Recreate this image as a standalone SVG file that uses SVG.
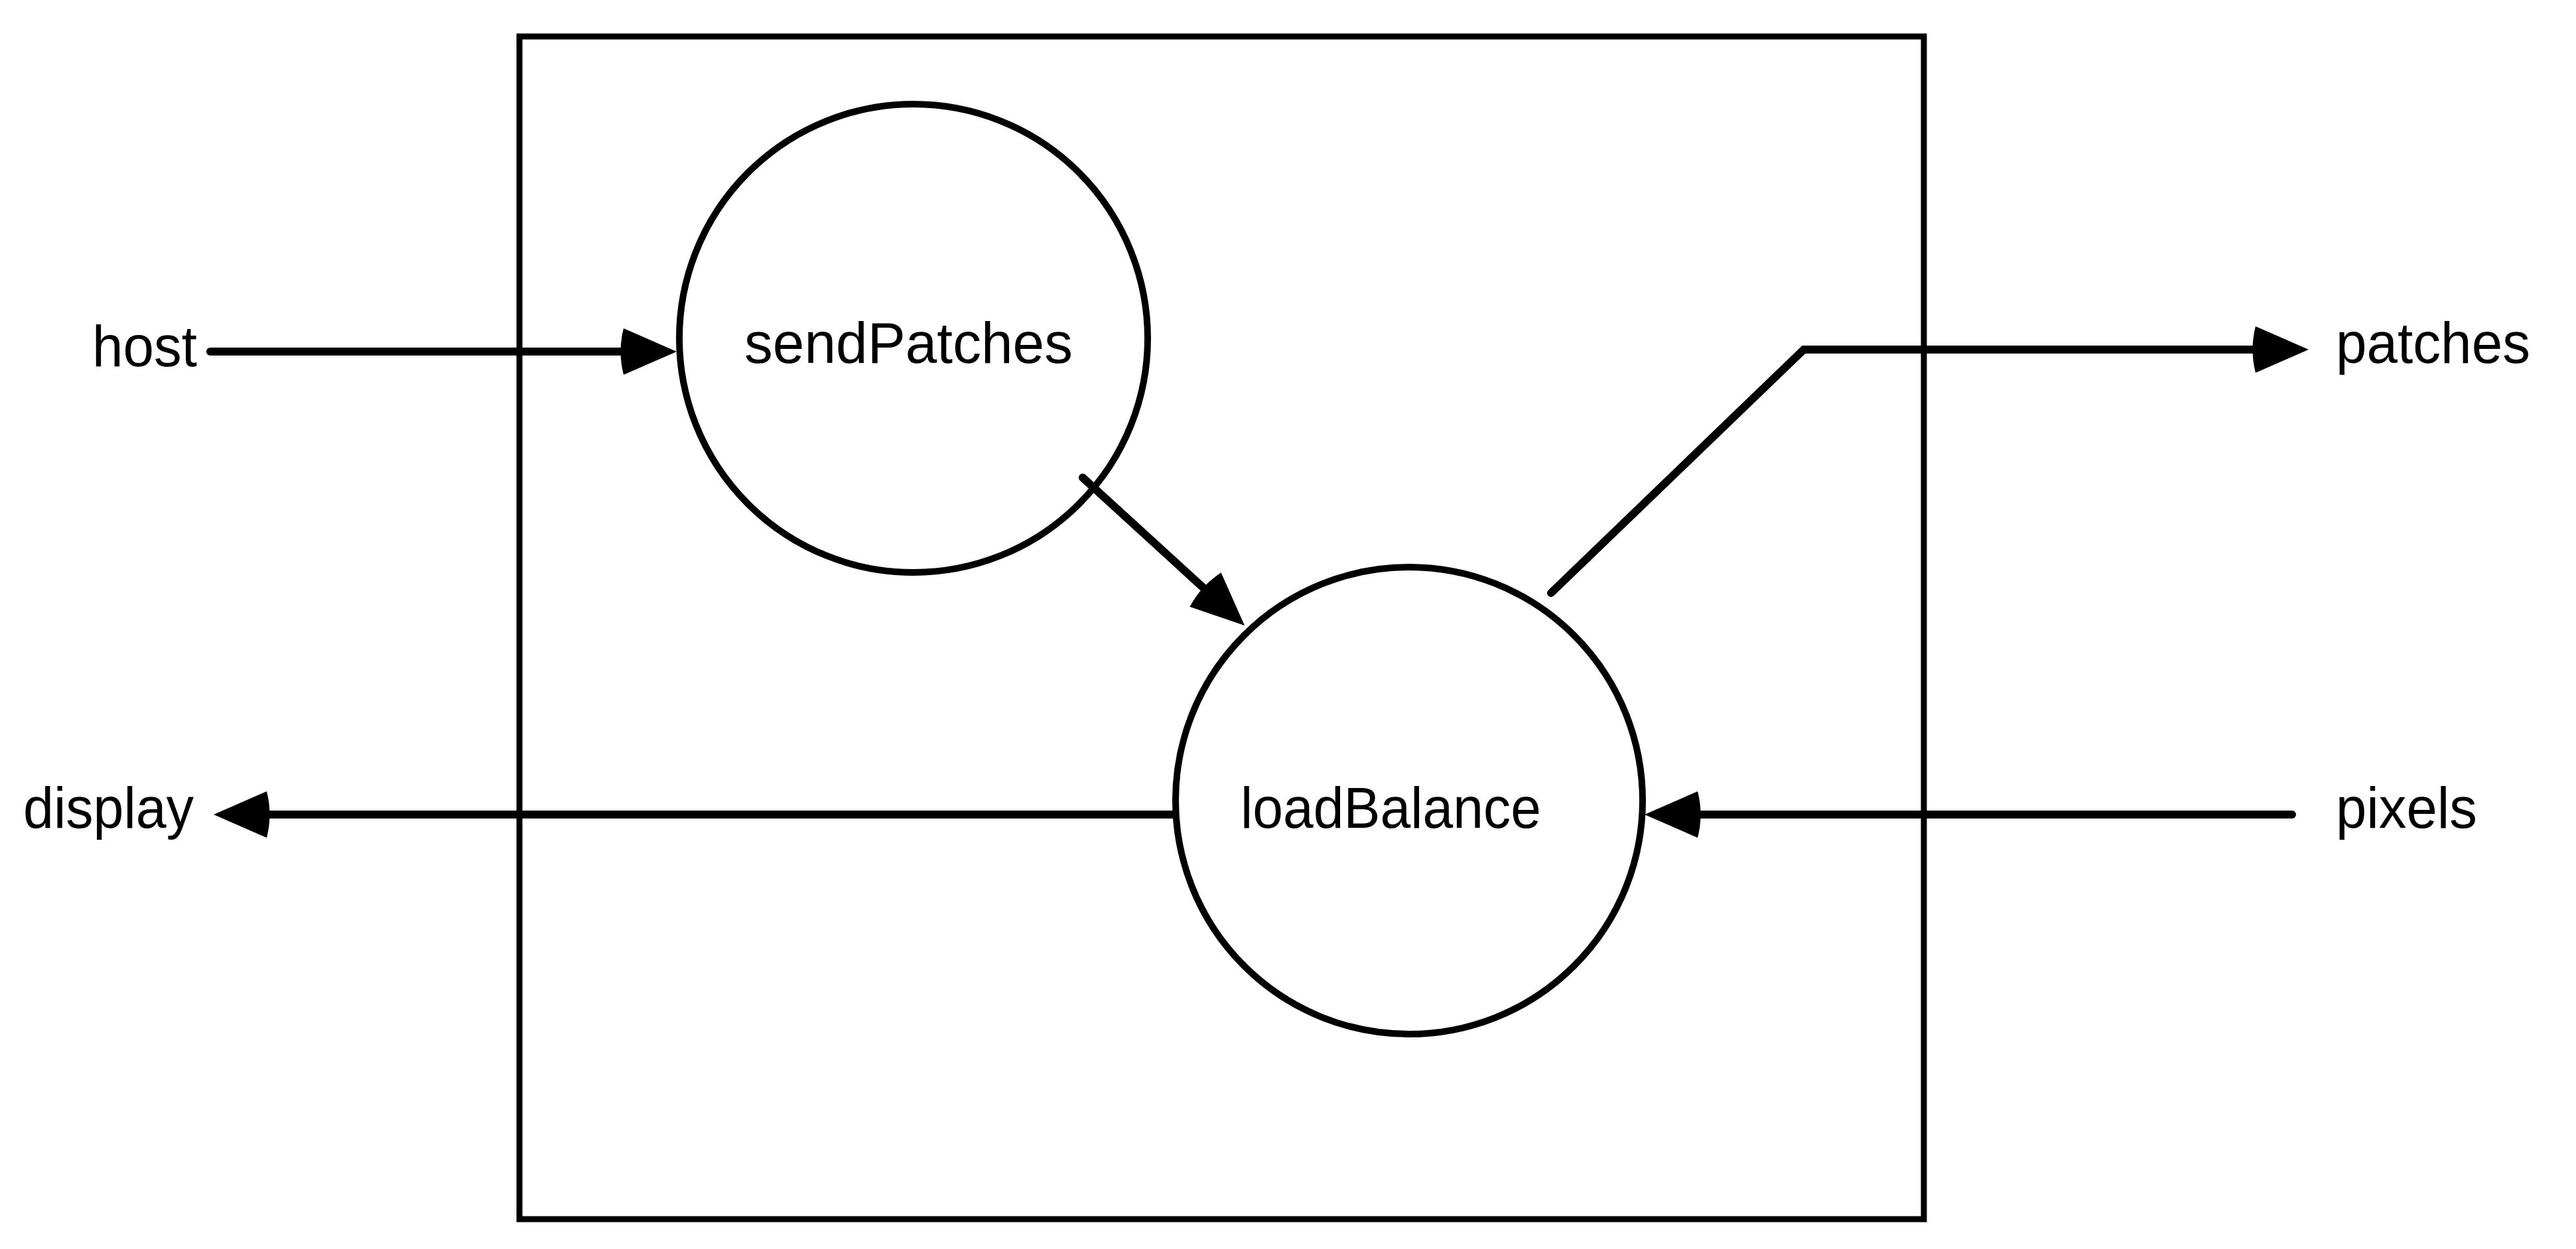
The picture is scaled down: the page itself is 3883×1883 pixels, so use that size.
<svg xmlns="http://www.w3.org/2000/svg" width="3883" height="1883" viewBox="0 0 3883 1883">
<style>
.box{fill:none;stroke:#000;stroke-width:9}
.node{fill:none;stroke:#000;stroke-width:10}
.edge{fill:none;stroke:#000;stroke-width:12;stroke-linecap:round;stroke-linejoin:miter}
.lbl{font-family:"Liberation Sans",Arial,sans-serif;font-size:88px;fill:#000}
</style>
<defs>
<marker id="arr" markerUnits="userSpaceOnUse" viewBox="-10 0 92 70" refX="0" refY="35" markerWidth="92" markerHeight="70" orient="auto">
<path d="M0,0 Q-9,35 0,70 L80,35 z" fill="#000"/>
</marker>
</defs>
<rect width="3883" height="1883" fill="#fff"/>
<g id="frame"><rect class="box" x="783" y="55" width="2117" height="1783"/></g>
<g id="sendPatches"><circle class="node" cx="1377" cy="510" r="353"/><text class="lbl" x="1122" y="547" textLength="495" lengthAdjust="spacingAndGlyphs">sendPatches</text></g>
<g id="loadBalance"><circle class="node" cx="2124" cy="1207" r="352"/><text class="lbl" x="1870" y="1248" textLength="453" lengthAdjust="spacingAndGlyphs">loadBalance</text></g>
<g id="host"><text class="lbl" x="139" y="552" textLength="158" lengthAdjust="spacingAndGlyphs">host</text></g>
<g id="display"><text class="lbl" x="35" y="1248" textLength="257" lengthAdjust="spacingAndGlyphs">display</text></g>
<g id="patches"><text class="lbl" x="3521" y="547" textLength="293" lengthAdjust="spacingAndGlyphs">patches</text></g>
<g id="pixels"><text class="lbl" x="3521" y="1248" textLength="213" lengthAdjust="spacingAndGlyphs">pixels</text></g>
<g id="connectors">
<line class="edge" x1="317" y1="530" x2="940" y2="530" marker-end="url(#arr)"/>
<line class="edge" x1="1632" y1="720" x2="1817" y2="889" marker-end="url(#arr)"/>
<polyline class="edge" points="2338,894 2719,527 3400,527" marker-end="url(#arr)"/>
<line class="edge" x1="1771" y1="1228" x2="402" y2="1228" marker-end="url(#arr)"/>
<line class="edge" x1="3455" y1="1228" x2="2559" y2="1228" marker-end="url(#arr)"/>
</g>
</svg>
